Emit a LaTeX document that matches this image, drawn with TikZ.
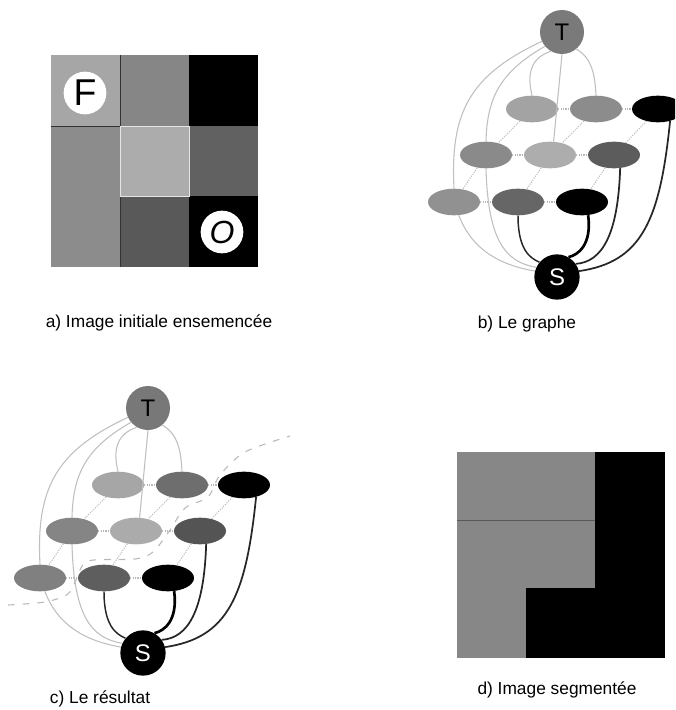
\documentclass[tikz,border=0pt]{standalone}
\usepackage{fontspec}
\setmainfont{Liberation Sans}
\usetikzlibrary{shapes.geometric}

% graph of the 3x3 image: terminals T and S, one ellipse per pixel
\newcommand{\graphe}[1]{%
  \node[sommet,fill=pT] (#1T) at (562,32) {T};
  \node[sommet,fill=black,text=white,minimum size=34pt] (#1S) at (557,277) {S};
  \node[pixel,fill=p11] (#1p11) at (532,109) {};
  \node[pixel,fill=p12] (#1p12) at (596,109) {};
  \node[pixel,fill=p13] (#1p13) at (658,109) {};
  \node[pixel,fill=p21] (#1p21) at (486,155) {};
  \node[pixel,fill=p22] (#1p22) at (550,155) {};
  \node[pixel,fill=p23] (#1p23) at (614,155) {};
  \node[pixel,fill=p31] (#1p31) at (454,202) {};
  \node[pixel,fill=p32] (#1p32) at (518,202) {};
  \node[pixel,fill=p33] (#1p33) at (582,202) {};
  % n-links
  \foreach \r in {1,2,3} {
    \draw[nlink] (#1p\r1) -- (#1p\r2);
    \draw[nlink] (#1p\r2) -- (#1p\r3);
  }
  \foreach \c in {1,2,3} {
    \draw[nlink] (#1p1\c) -- (#1p2\c);
    \draw[nlink] (#1p2\c) -- (#1p3\c);
  }
  % t-links to T
  \draw[tlink] (#1T.205) .. controls (470,75) and (450,112) .. (#1p31.north);
  \draw[tlink] (#1T.220) .. controls (500,72) and (487,98) .. (#1p21.north);
  \draw[tlink] (#1T.240) .. controls (530,58) and (527,75) .. (#1p11.north);
  \draw[tlink] (#1T.south) -- (#1p22.75);
  \draw[tlink] (#1T.310) .. controls (592,58) and (595,75) .. (#1p12.north);
  % t-links to S
  \draw[tlink] (#1p31.290) .. controls (472,250) and (500,265) .. (#1S.165);
  \draw[tlink] (#1p21.south) .. controls (488,240) and (505,262) .. (#1S.155);
  \draw[gray!30!black,line width=1.1pt] (#1p32.south) .. controls (518,250) and (530,258) .. (#1S.140);
  \draw[black,line width=2pt] (#1p33.295) .. controls (592,245) and (578,255) .. (#1S.60);
  \draw[black!85,line width=1.3pt] (#1p23.295) .. controls (618,235) and (602,262) .. (#1S.35);
  \draw[black!85,line width=1.3pt] (#1p13.315) .. controls (660,220) and (642,262) .. (#1S.15);
}

\begin{document}
\begin{tikzpicture}[x=0.75pt,y=-0.75pt,
    pixel/.style={ellipse,draw=none,minimum width=39pt,minimum height=20pt,inner sep=0pt},
    sommet/.style={circle,draw=none,minimum size=33pt,inner sep=0pt,font=\fontsize{18}{18}\selectfont},
    nlink/.style={gray!55,line width=0.8pt,densely dotted},
    tlink/.style={gray!50,line width=0.8pt},
    legende/.style={font=\fontsize{13}{15}\selectfont}]
  \useasboundingbox (0,0) rectangle (675,710);
  \clip (0,0) rectangle (675,710);

  % a) seeded image
  \fill[gray!70] (51,55) rectangle (120,126);
  \fill[gray!95] (120,55) rectangle (189,126);
  \fill[black] (189,55) rectangle (258,126);
  \fill[gray!110!black] (51,126) rectangle (120,196);
  \fill[gray!65] (120,126) rectangle (189,196);
  \fill[black!62] (189,126) rectangle (258,196);
  \fill[gray!110!black] (51,196) rectangle (120,267);
  \fill[black!65] (120,196) rectangle (189,267);
  \fill[black] (189,196) rectangle (258,267);
  \draw[black!80,line width=0.4pt] (120,55) -- (120,267) (51,126) -- (189,126);
  \draw[white!80!gray,line width=0.6pt] (120,126) rectangle (189,196);
  \node[circle,fill=white,minimum size=32pt,inner sep=0pt,font=\fontsize{28}{28}\selectfont] (graine) at (85,93) {F};
  \node[circle,fill=white,minimum size=32pt,inner sep=0pt,font=\fontsize{24}{24}\selectfont\itshape] (objet) at (222,232) {O};
  \node[legende] (lega) at (159,323) {a) Image initiale ensemencée};

  % b) graph
  \colorlet{pT}{black!52}
  \colorlet{p11}{black!36}\colorlet{p12}{black!45}\colorlet{p13}{black}
  \colorlet{p21}{black!46}\colorlet{p22}{black!32}\colorlet{p23}{black!64}
  \colorlet{p31}{black!43}\colorlet{p32}{black!60}\colorlet{p33}{black}
  \begin{scope}
    \graphe{b}
  \end{scope}
  \node[legende] (legb) at (527,324) {b) Le graphe};

  % c) result of the cut
  \colorlet{pT}{black!53}
  \colorlet{p11}{black!35}\colorlet{p12}{black!57}\colorlet{p13}{black}
  \colorlet{p21}{black!48}\colorlet{p22}{black!33}\colorlet{p23}{black!67}
  \colorlet{p31}{black!50}\colorlet{p32}{black!63}\colorlet{p33}{black}
  \begin{scope}[shift={(-414,376)}]
    \graphe{c}
  \end{scope}
  \draw[gray!55,line width=0.8pt,dash pattern=on 5pt off 6pt] plot[smooth] coordinates
    {(8,605) (45,602) (68,594) (77,578) (88,561) (135,559) (153,552) (170,530)
     (185,508) (208,497) (220,475) (245,452) (290,436)};
  \node[legende] (legc) at (100,699) {c) Le résultat};

  % d) segmented image
  \fill[black!47] (457,452) rectangle (595,658);
  \fill[black] (595,452) rectangle (665,658);
  \fill[black] (526,588) rectangle (595,658);
  \draw[black!65,line width=0.5pt] (457,520) -- (595,520);
  \node[legende] (legd) at (557,690) {d) Image segmentée};
\end{tikzpicture}
\end{document}
